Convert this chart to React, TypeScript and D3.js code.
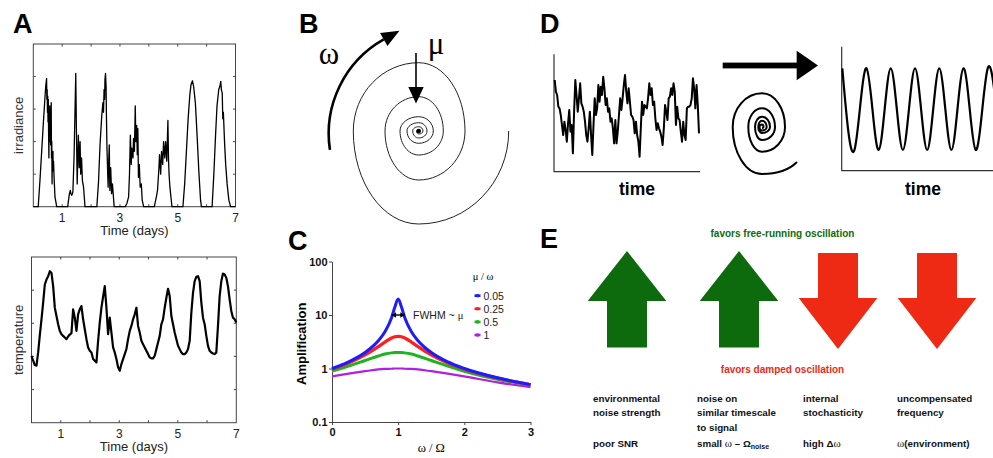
import React from "react";
import * as d3 from "d3";

// ---------- panel A: field recordings ----------
const dayTicks = [1, 3, 5, 7];

const irradianceDays = [
  0, 0.17, 0.23, 0.29, 0.35, 0.4, 0.43, 0.46, 0.47, 0.48, 0.49, 0.5, 0.51, 0.52, 0.53, 0.54, 0.55, 0.56,
  0.57, 0.58, 0.59, 0.6, 0.61, 0.62, 0.63, 0.64, 0.65, 0.66, 0.67, 0.68, 0.69, 0.7, 0.72, 0.75, 0.81,
  1.19, 1.25, 1.28, 1.3, 1.33, 1.37, 1.41, 1.45, 1.47, 1.49, 1.52, 1.54, 1.56, 1.59, 1.62, 1.64, 1.67,
  1.7, 1.74, 1.79,
  2.2, 2.26, 2.31, 2.37, 2.41, 2.43, 2.45, 2.47, 2.48, 2.5, 2.52, 2.53, 2.55, 2.57, 2.59, 2.61, 2.63,
  2.65, 2.68, 2.71, 2.74, 2.8,
  3.18, 3.24, 3.3, 3.33, 3.36, 3.39, 3.41, 3.45, 3.47, 3.5, 3.53, 3.55, 3.58, 3.6, 3.62, 3.64, 3.67,
  3.7, 3.74, 3.77, 3.82,
  4.19, 4.26, 4.3, 4.35, 4.37, 4.41, 4.44, 4.48, 4.51, 4.55, 4.58, 4.62, 4.66, 4.68, 4.7, 4.73, 4.8,
  5.18, 5.24, 5.3, 5.36, 5.42, 5.46, 5.51, 5.55, 5.61, 5.67, 5.73, 5.79, 5.82,
  6.19, 6.25, 6.31, 6.36, 6.42, 6.46, 6.49, 6.51, 6.54, 6.56, 6.58, 6.62, 6.66, 6.71, 6.77, 6.83, 7,
];
const irradianceValues = [
  0, 0, 0.8, 1.7, 2.6, 3.3, 3.7, 3.94, 3.3, 3.6, 2.9, 3.4, 2.6, 3.3, 2.2, 1.5, 2.8, 2.0,
  3.1, 2.3, 2.9, 1.9, 2.6, 3.2, 1.5, 2.0, 0.7, 1.6, 1.2, 1.7, 1.1, 1.4, 0.9, 0.3, 0,
  0, 0.4, 0.5, 0.4, 0.35, 0.45, 1.5, 3.2, 4.1, 2.5, 0.7, 1.5, 2.2, 1.2, 2.0, 1.0, 1.5,
  0.8, 0.6, 0,
  0, 0.8, 1.9, 2.8, 3.2, 2.9, 3.6, 3.3, 3.9, 4.1, 3.7, 2.9, 1.8, 1.2, 0.6, 1.4, 1.9,
  0.5, 1.2, 0.4, 0.7, 0,
  0, 0.1, 0.3, 1.0, 2.2, 1.3, 1.8, 1.5, 2.1, 1.7, 3.1, 2.0, 2.5, 1.6, 2.4, 0.9, 1.3,
  0.6, 0.7, 0.2, 0,
  0, 0.3, 0.5, 1.2, 1.6, 1.0, 1.7, 1.3, 2.0, 1.5, 2.0, 1.4, 2.65, 1.5, 1.0, 0.6, 0,
  0, 0.7, 1.7, 2.7, 3.45, 3.75, 3.87, 3.7, 3.2, 2.2, 1.1, 0.2, 0,
  0, 1.0, 2.2, 3.1, 3.6, 3.7, 3.85, 3.6, 3.5, 2.7, 2.9, 2.0, 1.3, 0.7, 0.2, 0, 0,
];

// temperature, evenly sampled over the 7 days
const temperatureValues = [
  20.2, 18.7, 17.4, 17.2, 21.2, 26.4, 31.2, 36.2, 41.7, 43.2,
  44.2, 45.7, 45.2, 41.2, 34.7, 32.2, 29.7, 27.7, 26.7, 26.2,
  25.7, 25.2, 26.0, 26.6, 27.0, 34.2, 31.7, 27.7, 32.7, 34.2,
  35.2, 31.2, 28.2, 25.2, 22.7, 21.7, 21.2, 19.2, 18.7, 18.2,
  24.7, 30.2, 34.7, 38.0, 41.2, 34.7, 26.7, 31.7, 27.2, 22.7,
  21.2, 19.2, 16.7, 15.7, 17.7, 19.2, 20.7, 22.2, 25.2, 27.7,
  29.2, 31.2, 32.7, 34.7, 29.2, 27.2, 24.7, 23.7, 22.7, 21.7,
  20.7, 19.7, 19.4, 19.4, 20.2, 22.2, 24.2, 26.2, 29.7, 31.2,
  34.7, 37.7, 40.4, 38.2, 32.2, 29.7, 27.2, 25.2, 23.2, 22.2,
  21.2, 20.7, 20.7, 21.2, 22.2, 24.7, 33.2, 39.2, 42.7, 44.0,
  44.2, 42.7, 36.2, 31.7, 29.7, 26.2, 23.2, 21.7, 21.2, 20.9,
  20.7, 21.2, 29.2, 38.2, 42.7, 45.0, 44.7, 43.7, 41.2, 37.2,
  33.7, 31.7, 31.2, 30.2,
];

// ---------- panel B / D: spirals, radius at every quarter turn ----------
const spiralBRadii = [
  90, 93, 65.4, 68.3, 46.3, 49, 33.7, 34.3, 24.6, 24, 18.7, 14.3, 14.6, 12.3, 11.7, 8.3, 8.3, 7, 6,
  4.3, 4.3, 3, 2.2, 1.4, 0.6,
];
const spiralDTurns = [
  0.125, 0.25, 0.5, 0.75, 1, 1.25, 1.5, 1.75, 2, 2.25, 2.5, 2.75, 3, 3.25, 3.5, 3.75, 4, 4.25, 4.5,
  4.75, 5, 5.25,
];
const spiralDRadii = [
  49.5, 47, 29.3, 33.7, 23, 24.7, 13.7, 18.7, 13, 13, 7, 10.3, 8, 6, 3.7, 6.3, 4.7, 3.5, 2.5, 2.5,
  1.5, 1,
];

// ---------- panel C: amplification vs. frequency ratio ----------
const freqRatio = [0, 0.25, 0.5, 0.7, 0.8, 0.9, 0.95, 1, 1.05, 1.1, 1.2, 1.3, 1.5, 1.75, 2, 2.5, 3];
const amp005 = [1.0, 1.33, 1.99, 3.29, 4.85, 8.9, 14.1, 20, 14.1, 8.9, 4.85, 3.29, 1.99, 1.33, 1.0, 0.67, 0.5];
const amp025 = [0.97, 1.26, 1.79, 2.56, 3.12, 3.71, 3.92, 4.0, 3.92, 3.71, 3.12, 2.56, 1.79, 1.26, 0.97, 0.66, 0.5];
const amp05 = [0.89, 1.11, 1.41, 1.71, 1.86, 1.96, 1.99, 2.0, 1.99, 1.96, 1.86, 1.71, 1.41, 1.11, 0.89, 0.63, 0.49];
const amp1 = [0.71, 0.8, 0.89, 0.96, 0.98, 0.99, 1.0, 1.0, 1.0, 0.99, 0.98, 0.96, 0.89, 0.8, 0.71, 0.55, 0.45];
const dampingLabels = ["0.05", "0.25", "0.5", "1"];
const ampTicks = [0.1, 1, 10, 100];
const ratioTicks = [0, 1, 2, 3];

// ---------- panel D: noisy input and filtered output ----------
const noisyInput = [
  27.5, 24, 23, 19.5, 19, 17, 14, 11, 15, 12.5, 9, 14.5, 18.5, 12, 14, 5.5, 18, 27.5, 23, 18, 22, 26.5,
  20.5, 19.5, 18, 15, 11, 9, 13, 18, 11, 5, 14, 22, 17, 19, 26, 21, 25.5, 23, 28.5, 25, 20, 22, 18, 19,
  15, 16, 13, 8.5, 15.5, 8.5, 12, 17, 22, 18.5, 22, 26, 29, 24, 20.5, 25, 21, 17, 16.5, 15.5, 11.5, 15,
  11, 9, 4.5, 13, 21, 17, 20, 19.5, 19, 22, 26.5, 23, 25, 20, 21, 16, 12.5, 14.5, 13, 12, 10.5, 8, 13,
  20, 18, 15.5, 22, 22.5, 25, 23, 26.5, 24, 14, 19.5, 16, 15.5, 12, 9, 15, 11, 9.5, 19, 19.5, 19.5, 20,
  22, 28, 25, 19, 26, 20, 11.5,
];
// peaks and troughs of the output, one per half period
const outputExtremes = [1, -1, 1, -1, 1, -1, 1, -1, 1, -1, 1, -1, 1, -1];

// ---------- panel E ----------
const factorLines = [
  ["environmental", "noise strength"],
  ["noise on", "similar timescale", "to signal"],
  ["internal", "stochasticity"],
  ["uncompensated", "frequency"],
];
const factorEffect = [1, 1, -1, -1];

const SANS = "'Liberation Sans', Arial, Helvetica, sans-serif";
const SERIF = "'Liberation Serif', 'Times New Roman', serif";

const Layout = {
  width: 993,
  height: 458,
  irradiance: { left: 33.3, right: 235.5, top: 44, bottom: 206.7 },
  temperature: { left: 31.5, right: 236.3, top: 257, bottom: 422.7 },
  amp: { left: 332, right: 530.5, top: 261.5, bottom: 422 },
  spiralB: { cx: 418.7, cy: 131 },
  spiralD: { cx: 762, cy: 127 },
  noisy: { left: 554.7, right: 699, top: 54.3, bottom: 171.7, axisX: 554 },
  sine: { left: 842.3, axisX: 841.7, top: 46.7, bottom: 170.7, peak: 68.3, trough: 150 },
  arrowX: [627, 739, 838, 937],
  textX: [593, 697, 803, 897],
};

const COLORS = ["#1c1cff", "#ff1f1f", "#1fb41f", "#b020e0"];
const GREEN = "#0d6b0d";
const RED = "#ee2a14";

function spiralPath(cx, cy, turns, radii) {
  const p = d3.path();
  const pt = (t, r) => [cx + r * Math.cos(2 * Math.PI * t), cy + r * Math.sin(2 * Math.PI * t)];
  const [x0, y0] = pt(turns[0], radii[0]);
  p.moveTo(x0, y0);
  for (let i = 0; i < turns.length - 1; i++) {
    const a0 = 2 * Math.PI * turns[i];
    const a1 = 2 * Math.PI * turns[i + 1];
    const h = (4 / 3) * Math.tan((a1 - a0) / 4);
    const [xa, ya] = pt(turns[i], radii[i]);
    const [xb, yb] = pt(turns[i + 1], radii[i + 1]);
    p.bezierCurveTo(
      xa - h * radii[i + 1] * Math.sin(a0),
      ya + h * radii[i + 1] * Math.cos(a0),
      xb + h * radii[i] * Math.sin(a1),
      yb - h * radii[i] * Math.cos(a1),
      xb,
      yb
    );
  }
  return p.toString();
}

function drawTimePlot(svg, box, days, values, yMax, lineWidth, label, labelX) {
  const x = d3.scaleLinear().domain([0, 7]).range([box.left, box.right]);
  const y = d3.scaleLinear().domain([0, yMax]).range([box.bottom, box.top]);
  const g = svg.append("g");

  g.append("rect")
    .attr("x", box.left)
    .attr("y", box.top)
    .attr("width", box.right - box.left)
    .attr("height", box.bottom - box.top)
    .attr("fill", "none")
    .attr("stroke", "#444")
    .attr("stroke-width", 1);

  const xt = d3.range(1, 7);
  const yt = y.ticks(5).filter((v) => v > 0 && v < yMax);
  const tick = 2.5;
  [box.top, box.bottom].forEach((edge, k) => {
    g.selectAll(null)
      .data(xt)
      .join("line")
      .attr("x1", (d) => x(d))
      .attr("x2", (d) => x(d))
      .attr("y1", edge)
      .attr("y2", edge + (k === 0 ? tick : -tick))
      .attr("stroke", "#444");
  });
  [box.left, box.right].forEach((edge, k) => {
    g.selectAll(null)
      .data(yt)
      .join("line")
      .attr("y1", (d) => y(d))
      .attr("y2", (d) => y(d))
      .attr("x1", edge)
      .attr("x2", edge + (k === 0 ? tick : -tick))
      .attr("stroke", "#444");
  });

  const line = d3
    .line()
    .x((d, i) => x(days[i]))
    .y((d) => y(d));
  g.append("path")
    .datum(values)
    .attr("d", line)
    .attr("fill", "none")
    .attr("stroke", "#000")
    .attr("stroke-width", lineWidth)
    .attr("stroke-linejoin", "round");

  g.selectAll(null)
    .data(dayTicks)
    .join("text")
    .attr("x", (d) => x(d))
    .attr("y", box.bottom + 15)
    .attr("text-anchor", "middle")
    .attr("font-family", SANS)
    .attr("font-size", 12)
    .attr("fill", "#222")
    .text((d) => d);

  g.append("text")
    .attr("x", (box.left + box.right) / 2)
    .attr("y", box.bottom + 28.5)
    .attr("text-anchor", "middle")
    .attr("font-family", SANS)
    .attr("font-size", 13)
    .attr("fill", "#222")
    .text("Time (days)");

  g.append("text")
    .attr("transform", `translate(${labelX},${(box.top + box.bottom) / 2}) rotate(-90)`)
    .attr("text-anchor", "middle")
    .attr("font-family", SANS)
    .attr("font-size", 13)
    .attr("fill", "#333")
    .text(label);
}

function panelLetter(svg, letter, x, y) {
  svg
    .append("text")
    .attr("x", x)
    .attr("y", y)
    .attr("font-family", SANS)
    .attr("font-weight", "bold")
    .attr("font-size", 27)
    .attr("fill", "#000")
    .text(letter);
}

function drawPanelA(svg) {
  drawTimePlot(svg, Layout.irradiance, irradianceDays, irradianceValues, 5, 1.3, "irradiance", 23);
  const n = temperatureValues.length;
  const tDays = d3.range(n).map((i) => (7 * i) / (n - 1));
  drawTimePlot(svg, Layout.temperature, tDays, temperatureValues, 50, 2.2, "temperature", 22.5);
  panelLetter(svg, "A", 13, 33);
}

function drawPanelB(svg) {
  const { cx, cy } = Layout.spiralB;
  const turns = spiralBRadii.map((_, i) => i * 0.25);
  svg
    .append("path")
    .attr("d", spiralPath(cx, cy, turns, spiralBRadii))
    .attr("fill", "none")
    .attr("stroke", "#222")
    .attr("stroke-width", 1);
  svg.append("circle").attr("cx", cx).attr("cy", cy).attr("r", 2.3).attr("fill", "#000");

  // omega: rotation arrow
  const ac = { x: 436.7, y: 133.6, r: 108 };
  const a0 = 2.99;
  const a1 = 4.2;
  const arc = d3.path();
  arc.arc(ac.x, ac.y, ac.r, a0, a1, false);
  svg
    .append("path")
    .attr("d", arc.toString())
    .attr("fill", "none")
    .attr("stroke", "#000")
    .attr("stroke-width", 2.6);
  const bx = ac.x + ac.r * Math.cos(a1);
  const by = ac.y + ac.r * Math.sin(a1);
  const tx = -Math.sin(a1);
  const ty = Math.cos(a1);
  const nx = Math.cos(a1);
  const ny = Math.sin(a1);
  svg
    .append("polygon")
    .attr(
      "points",
      [
        [bx + 18 * tx, by + 18 * ty],
        [bx + 7.5 * nx, by + 7.5 * ny],
        [bx - 7.5 * nx, by - 7.5 * ny],
      ]
        .map((p) => p.join(","))
        .join(" ")
    )
    .attr("fill", "#000");

  // mu: damping arrow
  svg
    .append("line")
    .attr("x1", 416)
    .attr("x2", 416)
    .attr("y1", 53)
    .attr("y2", 90)
    .attr("stroke", "#000")
    .attr("stroke-width", 1.6);
  svg.append("polygon").attr("points", "408.3,87 423.7,87 416,103.5").attr("fill", "#000");

  svg
    .append("text")
    .attr("x", 329)
    .attr("y", 64)
    .attr("text-anchor", "middle")
    .attr("font-family", SERIF)
    .attr("font-size", 31)
    .text("ω");
  svg
    .append("text")
    .attr("x", 436)
    .attr("y", 54)
    .attr("text-anchor", "middle")
    .attr("font-family", SERIF)
    .attr("font-size", 31)
    .text("μ");
  panelLetter(svg, "B", 299, 33);
}

function drawPanelC(svg) {
  const b = Layout.amp;
  const x = d3.scaleLinear().domain([0, 3]).range([b.left, b.right]);
  const y = d3.scaleLog().domain([0.1, 100]).range([b.bottom, b.top]);

  const gy = svg
    .append("g")
    .attr("transform", `translate(${b.left},0)`)
    .call(
      d3
        .axisLeft(y)
        .tickValues(ampTicks)
        .tickFormat((d) => String(d))
        .tickSize(3)
        .tickPadding(1.5)
        .tickSizeOuter(0)
    );
  const gx = svg
    .append("g")
    .attr("transform", `translate(0,${b.bottom})`)
    .call(
      d3
        .axisBottom(x)
        .tickValues(ratioTicks)
        .tickFormat(d3.format("d"))
        .tickSize(3)
        .tickPadding(3)
        .tickSizeOuter(0)
    );
  [gy, gx].forEach((g) => {
    g.attr("color", "#444").attr("font-family", SANS).attr("font-size", 11).attr("font-weight", "bold");
    g.selectAll("text").attr("fill", "#111");
  });

  const series = [amp005, amp025, amp05, amp1];
  const widths = [3, 3.2, 3, 2.2];
  const line = d3
    .line()
    .x((d, i) => x(freqRatio[i]))
    .y((d) => y(d))
    .curve(d3.curveMonotoneX);
  series
    .slice()
    .reverse()
    .forEach((vals, k) => {
      const i = series.length - 1 - k;
      svg
        .append("path")
        .datum(vals)
        .attr("d", line)
        .attr("fill", "none")
        .attr("stroke", COLORS[i])
        .attr("stroke-width", widths[i]);
    });

  // legend
  svg
    .append("text")
    .attr("x", 483)
    .attr("y", 280)
    .attr("text-anchor", "middle")
    .attr("font-family", SERIF)
    .attr("font-size", 10.5)
    .text("μ / ω");
  const ly = d3.scalePoint().domain(dampingLabels).range([295.7, 335]);
  const lg = svg.append("g");
  lg.selectAll("line")
    .data(dampingLabels)
    .join("line")
    .attr("x1", 474.5)
    .attr("x2", 480.5)
    .attr("y1", (d) => ly(d))
    .attr("y2", (d) => ly(d))
    .attr("stroke", (d, i) => COLORS[i])
    .attr("stroke-width", 2.6);
  lg.selectAll("circle")
    .data(dampingLabels)
    .join("circle")
    .attr("cx", 477.5)
    .attr("cy", (d) => ly(d))
    .attr("r", 1.8)
    .attr("fill", (d, i) => COLORS[i]);
  lg.selectAll("text")
    .data(dampingLabels)
    .join("text")
    .attr("x", 483.5)
    .attr("y", (d) => ly(d) + 3.8)
    .attr("font-family", SANS)
    .attr("font-size", 10.5)
    .attr("fill", "#222")
    .text((d) => d);

  // FWHM marker
  const fy = y(10);
  svg
    .append("line")
    .attr("x1", x(0.9))
    .attr("x2", x(1.1))
    .attr("y1", fy)
    .attr("y2", fy)
    .attr("stroke", "#000")
    .attr("stroke-width", 1.4);
  [
    [x(0.9), 1],
    [x(1.1), -1],
  ].forEach(([px, dir]) => {
    svg
      .append("polygon")
      .attr("points", `${px},${fy} ${px + 4.5 * dir},${fy - 2.8} ${px + 4.5 * dir},${fy + 2.8}`)
      .attr("fill", "#000");
  });
  const ft = svg
    .append("text")
    .attr("x", 413)
    .attr("y", fy + 3.8)
    .attr("font-family", SANS)
    .attr("font-size", 10.5)
    .attr("fill", "#222");
  ft.append("tspan").text("FWHM ~ ");
  ft.append("tspan").attr("font-family", SERIF).text("μ");

  svg
    .append("text")
    .attr("transform", `translate(${306},${(b.top + b.bottom) / 2 + 2}) rotate(-90)`)
    .attr("text-anchor", "middle")
    .attr("font-family", SANS)
    .attr("font-weight", "bold")
    .attr("font-size", 13)
    .text("Amplification");
  svg
    .append("text")
    .attr("x", (b.left + b.right) / 2)
    .attr("y", 452)
    .attr("text-anchor", "middle")
    .attr("font-family", SERIF)
    .attr("font-size", 12.5)
    .text("ω / Ω");
  panelLetter(svg, "C", 288, 250);
}

function drawPanelD(svg) {
  const nb = Layout.noisy;
  const x = d3
    .scaleLinear()
    .domain([0, noisyInput.length - 1])
    .range([nb.left, nb.right]);
  const y = d3.scaleLinear().domain([0, 35.2]).range([nb.bottom, nb.top]);
  svg
    .append("path")
    .attr("d", `M${nb.axisX},${nb.top}V${nb.bottom}H${nb.right + 1}`)
    .attr("fill", "none")
    .attr("stroke", "#333")
    .attr("stroke-width", 1.2);
  svg
    .append("path")
    .datum(noisyInput)
    .attr(
      "d",
      d3
        .line()
        .x((d, i) => x(i))
        .y((d) => y(d))
    )
    .attr("fill", "none")
    .attr("stroke", "#000")
    .attr("stroke-width", 2)
    .attr("stroke-linejoin", "round");

  const sb = Layout.sine;
  const sx = d3.scaleLinear().domain([0, 12]).range([sb.left, sb.left + 12 * 12.12]);
  const sy = d3.scaleLinear().domain([-1, 1]).range([sb.trough, sb.peak]);
  svg
    .append("path")
    .attr("d", `M${sb.axisX},${sb.top}V${sb.bottom}H${Layout.width}`)
    .attr("fill", "none")
    .attr("stroke", "#333")
    .attr("stroke-width", 1.2);
  svg
    .append("path")
    .datum(outputExtremes)
    .attr(
      "d",
      d3
        .line()
        .x((d, i) => sx(i))
        .y((d) => sy(d))
        .curve(d3.curveNatural)
    )
    .attr("fill", "none")
    .attr("stroke", "#000")
    .attr("stroke-width", 2.2);

  [637, 923].forEach((cx) => {
    svg
      .append("text")
      .attr("x", cx)
      .attr("y", 195)
      .attr("text-anchor", "middle")
      .attr("font-family", SANS)
      .attr("font-weight", "bold")
      .attr("font-size", 17.5)
      .text("time");
  });

  // transfer arrow
  svg.append("rect").attr("x", 722.7).attr("y", 62.6).attr("width", 76).attr("height", 5.8).attr("fill", "#000");
  svg.append("polygon").attr("points", "796.7,50.7 818,65.5 796.7,80.3").attr("fill", "#000");

  const { cx, cy } = Layout.spiralD;
  svg
    .append("path")
    .attr("d", spiralPath(cx, cy, spiralDTurns, spiralDRadii))
    .attr("fill", "none")
    .attr("stroke", "#000")
    .attr("stroke-width", 2);
  panelLetter(svg, "D", 540, 33);
}

function drawPanelE(svg) {
  const g = svg.append("g");
  factorEffect.forEach((dir, i) => {
    const cx = Layout.arrowX[i];
    const hw = 39.3;
    const sw = 20;
    let pts;
    if (dir > 0) {
      pts = [
        [cx, 251],
        [cx + hw, 301],
        [cx + sw, 301],
        [cx + sw, 347.5],
        [cx - sw, 347.5],
        [cx - sw, 301],
        [cx - hw, 301],
      ];
    } else {
      pts = [
        [cx - sw, 253],
        [cx + sw, 253],
        [cx + sw, 298],
        [cx + hw, 298],
        [cx, 349],
        [cx - hw, 298],
        [cx - sw, 298],
      ];
    }
    g.append("polygon")
      .attr("points", pts.map((p) => p.join(",")).join(" "))
      .attr("fill", dir > 0 ? GREEN : RED);
  });

  g.append("text")
    .attr("x", 782.5)
    .attr("y", 237)
    .attr("text-anchor", "middle")
    .attr("font-family", SANS)
    .attr("font-weight", "bold")
    .attr("font-size", 10)
    .attr("fill", GREEN)
    .text("favors free-running oscillation");
  g.append("text")
    .attr("x", 782.5)
    .attr("y", 372.5)
    .attr("text-anchor", "middle")
    .attr("font-family", SANS)
    .attr("font-weight", "bold")
    .attr("font-size", 10)
    .attr("fill", RED)
    .text("favors damped oscillation");

  const rowY = d3.scaleLinear().domain([0, 1]).range([401.5, 416.3]);
  factorLines.forEach((lines, i) => {
    lines.forEach((t, j) => {
      g.append("text")
        .attr("x", Layout.textX[i])
        .attr("y", rowY(j))
        .attr("font-family", SANS)
        .attr("font-weight", "bold")
        .attr("font-size", 9.8)
        .attr("fill", "#111")
        .text(t);
    });
  });

  const metrics = [
    [{ t: "poor SNR" }],
    [{ t: "small " }, { t: "ω", serif: true }, { t: " – Ω" }, { t: "noise", sub: true }],
    [{ t: "high Δ" }, { t: "ω", serif: true }],
    [{ t: "ω", serif: true }, { t: "(environment)" }],
  ];
  metrics.forEach((segs, i) => {
    const tx = g
      .append("text")
      .attr("x", Layout.textX[i])
      .attr("y", 446.5)
      .attr("font-family", SANS)
      .attr("font-weight", "bold")
      .attr("font-size", 9.8)
      .attr("fill", "#111");
    segs.forEach((s) => {
      const sp = tx.append("tspan").text(s.t);
      if (s.serif) sp.attr("font-family", SERIF).attr("font-weight", "normal").attr("font-size", 11);
      if (s.sub) sp.attr("font-size", 7).attr("dy", 2);
    });
  });
  panelLetter(svg, "E", 540, 248);
}

function App() {
  const ref = React.useRef(null);

  React.useEffect(() => {
    document.body.style.margin = "0";
    const svg = d3.select(ref.current);
    svg.selectAll("*").remove();
    svg.append("rect").attr("width", Layout.width).attr("height", Layout.height).attr("fill", "#fff");
    drawPanelA(svg);
    drawPanelB(svg);
    drawPanelC(svg);
    drawPanelD(svg);
    drawPanelE(svg);
  }, []);

  return (
    <svg
      ref={ref}
      width={Layout.width}
      height={Layout.height}
      style={{ display: "block", position: "absolute", left: 0, top: 0 }}
    />
  );
}

export default App;
